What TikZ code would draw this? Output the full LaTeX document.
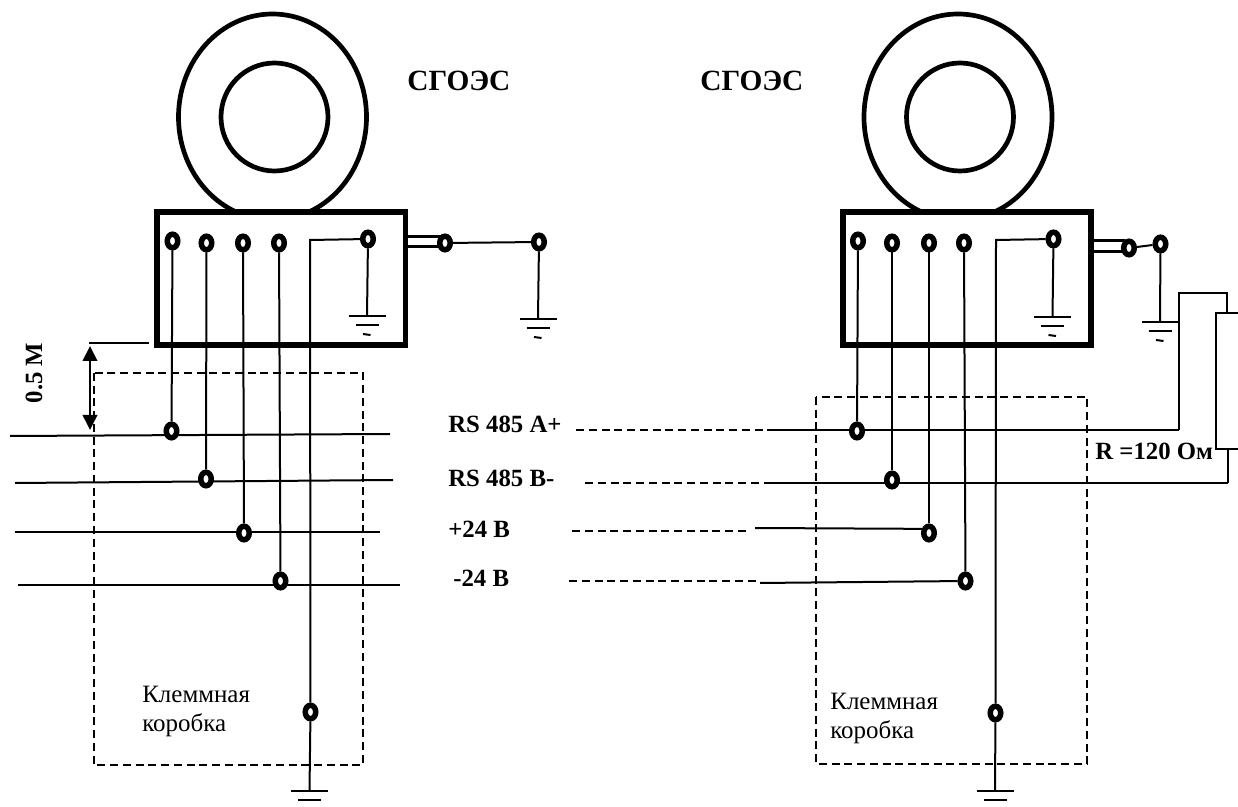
\documentclass[tikz,border=0pt]{standalone}
\usepackage{fontspec}
\setmainfont{Liberation Serif}
\usetikzlibrary{shapes.geometric,arrows.meta}

\tikzset{
  wire/.style={line width=0.4mm},
  bound/.style={line width=0.4mm,dash pattern=on 1.6mm off 0.95mm},
  term/.style={ellipse,draw,fill=white,line width=1.1mm,inner sep=0pt,minimum width=2.1mm,minimum height=2.7mm,outer sep=0.55mm},
  ringbig/.style={ellipse,draw,line width=0.94mm,inner sep=0pt,minimum width=37.6mm,minimum height=41.2mm},
  ringsmall/.style={ellipse,draw,line width=0.94mm,inner sep=0pt,minimum width=21.4mm,minimum height=21.6mm},
  housing/.style={line width=1.1mm,fill=white},
  stub/.style={line width=0.6mm},
  lbl/.style={font=\bfseries\fontsize{14.1}{16}\selectfont,inner sep=0pt,anchor=base west},
  headlbl/.style={font=\bfseries\fontsize{16.7}{18}\selectfont,inner sep=0pt,anchor=base west},
  note/.style={font=\fontsize{14.2}{16.4}\selectfont,align=left,inner sep=0pt,anchor=north west},
  gnd/.pic={
    \draw[wire] (-18.5,0) -- (18.5,0);
    \draw[wire] (-11.5,9.5) -- (11.5,9.5);
    \draw[wire] (-4,18) -- (3.5,19);
  }
}

\begin{document}
\begin{tikzpicture}[x=0.2mm,y=-0.2mm]
    \useasboundingbox (0,0) rectangle (1238,807);

    % Left sensor
    \node[ringbig] (ringOutL) at (272.5,117) {};
    \node[ringsmall] (ringInL) at (274.5,117) {};
    \draw[housing] (157,212) rectangle (405.5,345);

    % Right sensor
    \node[ringbig] (ringOutR) at (958,117) {};
    \node[ringsmall] (ringInR) at (960,117) {};
    \draw[housing] (843,212) rectangle (1091,345);

    % Terminal boxes
    \draw[bound] (94,373) rectangle (363,765);
    \draw[bound] (816,397) rectangle (1087,764);

    % Free ends
    \coordinate (busA0) at (10,436);
    \coordinate (busA1) at (390,434);
    \coordinate (busB0) at (15,483);
    \coordinate (busB1) at (393,480);
    \coordinate (busP0) at (15,532);
    \coordinate (busP1) at (380,532);
    \coordinate (busM0) at (18,585);
    \coordinate (busM1) at (400,585);
    \coordinate (busA2) at (775,430);
    \coordinate (busA3) at (1179,430);
    \coordinate (busB2) at (772,483);
    \coordinate (busB3) at (1228,483);
    \coordinate (gE1) at (367,316);
    \coordinate (gG1) at (538,319);
    \coordinate (gL1) at (309.5,791);
    \coordinate (gE3) at (1052.5,317);
    \coordinate (gG3) at (1160,322);
    \coordinate (gL3) at (995,791);
    \coordinate (bendL) at (310,240);
    \coordinate (bendR) at (996,240);

    % Bus lines, under the terminals
    \draw[wire] (busA0) -- (busA1);
    \draw[wire] (busB0) -- (busB1);
    \draw[wire] (busP0) -- (busP1);
    \draw[wire] (busM0) -- (busM1);
    \draw[wire] (busA2) -- (busA3);
    \draw[wire] (busB2) -- (busB3);

    % Output stubs
    \draw[stub] (408,236.5) -- (441,236.5);
    \draw[stub] (408,246.5) -- (441,246.5);
    \draw[stub] (1093,240.5) -- (1125,240.5);
    \draw[stub] (1093,251.5) -- (1125,251.5);

    % Terminals, left
    \node[term] (a1) at (172.5,241) {};
    \node[term] (b1) at (206.5,243) {};
    \node[term] (c1) at (243,243) {};
    \node[term] (d1) at (279,243) {};
    \node[term] (e1) at (368,239) {};
    \node[term] (f1) at (445,243) {};
    \node[term] (g1) at (539,242) {};
    \node[term] (a2) at (171.5,431) {};
    \node[term] (b2) at (206,479) {};
    \node[term] (c2) at (244,533) {};
    \node[term] (d2) at (280.5,581) {};
    \node[term] (e2) at (310.5,712) {};

    % Terminals, right
    \node[term] (a3) at (858,241) {};
    \node[term] (b3) at (892,243) {};
    \node[term] (c3) at (929,243) {};
    \node[term] (d3) at (964,243) {};
    \node[term] (e3) at (1053.5,239) {};
    \node[term] (f3) at (1129,248) {};
    \node[term] (g3) at (1160.5,244) {};
    \node[term] (a4) at (857,431) {};
    \node[term] (b4) at (892,480) {};
    \node[term] (c4) at (929,533) {};
    \node[term] (d4) at (965.5,581) {};
    \node[term] (e4) at (995.5,713) {};

    % Wires, left
    \draw[wire] (a1) -- (a2);
    \draw[wire] (b1) -- (b2);
    \draw[wire] (c1) -- (c2);
    \draw[wire] (d1) -- (d2);
    \draw[wire] (e1) -- (bendL) -- (e2);
    \draw[wire] (e2) -- (gL1);
    \draw[wire] (e1) -- (gE1);
    \draw[wire] (f1) -- (g1);
    \draw[wire] (g1) -- (gG1);

    % Wires, right
    \draw[wire] (a3) -- (a4);
    \draw[wire] (b3) -- (b4);
    \draw[wire] (c3) -- (c4);
    \draw[wire] (d3) -- (d4);
    \draw[wire] (e3) -- (bendR) -- (e4);
    \draw[wire] (e4) -- (gL3);
    \draw[wire] (e3) -- (gE3);
    \draw[wire] (f3) -- (g3);
    \draw[wire] (g3) -- (gG3);

    % Grounds
    \pic at (gE1) {gnd};
    \pic at (gG1) {gnd};
    \pic at (gL1) {gnd};
    \pic at (gE3) {gnd};
    \pic at (gG3) {gnd};
    \pic at (gL3) {gnd};

    % Dashed bus runs
    \draw[bound] (576,430) -- (busA2);
    \draw[bound] (585,483) -- (busB2);
    \draw[bound] (572,531) -- (750,531);
    \draw[wire] (755,528) -- (c4.150);
    \draw[bound] (569,581) -- (760,581);
    \draw[wire] (760,583) -- (d4);

    % Resistor
    \draw[wire] (busA3) -- (1179,293) -- (1227,293) -- (1227,313);
    \draw[wire] (1238,313) -- (1216,313) -- (1216,449) -- (1238,449);
    \draw[wire] (1228,449) -- (busB3);

    % Distance mark
    \draw[wire] (89,343) -- (149,343);
    \draw[wire,{Triangle[width=2.9mm,length=3mm]}-{Triangle[width=2.9mm,length=3mm]}] (90,346) -- (90,430);

    % Labels
    \node[font=\bfseries\fontsize{14.1}{16}\selectfont,inner sep=0pt,rotate=90] (dist) at (34,373) {0.5 М};
    \node[headlbl] (nameL) at (407,91) {СГОЭС};
    \node[headlbl] (nameR) at (700,91) {СГОЭС};
    \node[lbl] (txtA) at (448,433) {RS 485 A+};
    \node[lbl] (txtB) at (448,487) {RS 485 B-};
    \node[lbl] (txtP) at (448,538) {+24 В};
    \node[lbl] (txtM) at (453,587) {-24 В};
    \node[lbl] (res) at (1095,460) {R =120 Ом};
    \node[note] (boxL) at (142,685.5) {Клеммная\\коробка};
    \node[note] (boxR) at (830,692.5) {Клеммная\\коробка};
\end{tikzpicture}
\end{document}
